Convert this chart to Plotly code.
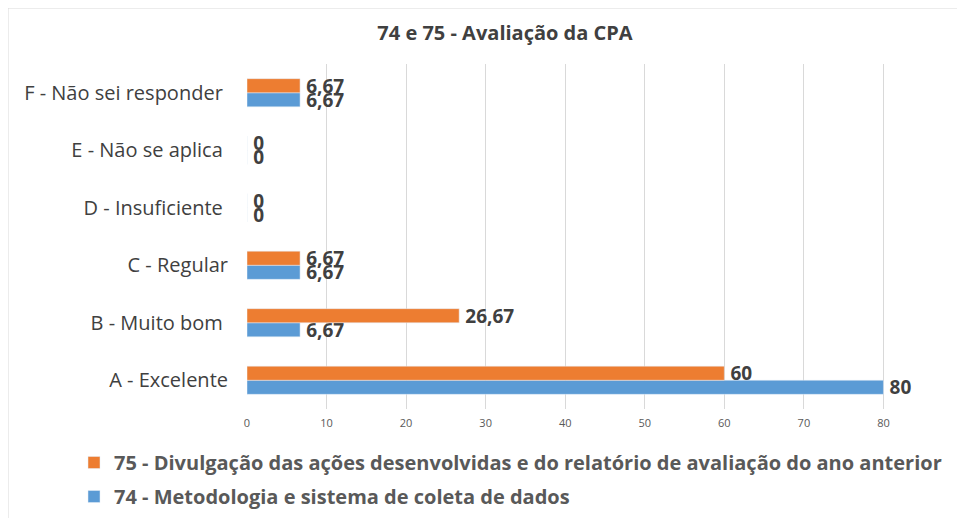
import plotly.graph_objects as go

categories = ["A - Excelente", "B - Muito bom ", "C - Regular", "D - Insuficiente ", "E - Não se aplica ", "F - Não sei responder "]
series74_name = "74 - Metodologia e sistema de coleta de dados"
series75_name = "75 - Divulgação das ações desenvolvidas e do relatório de avaliação do ano anterior"
series74 = [80, 6.67, 6.67, 0, 0, 6.67]
series75 = [60, 26.67, 6.67, 0, 0, 6.67]
x_ticks = [0, 10, 20, 30, 40, 50, 60, 70, 80, 90]

def fmt(v):
    return "\u2009" + f"{v:g}".replace(".", ",")

OFF = 8  # page body margin
W, H = 965 - OFF, 518 - OFF
# plot area in page coordinates: x 247..963, y 64..409
ml = 247 - OFF
mt = 64 - OFF
mr = W - (963 - OFF)
mb = H - (409 - OFF)
pw = W - ml - mr
ph = H - mt - mb

label_font = dict(family="Open Sans", size=19, color="#404040", weight="bold")

fig = go.Figure()
fig.add_trace(go.Bar(
    y=categories, x=series74, orientation="h", name=series74_name,
    marker=dict(color="#5B9BD5"), text=[fmt(v) for v in series74],
    textposition="outside", cliponaxis=False, constraintext="none",
    textfont=label_font, legendrank=2, legendgroup="g74",
))
fig.add_trace(go.Bar(
    y=categories, x=series75, orientation="h", name=series75_name,
    marker=dict(color="#ED7D31"), text=[fmt(v) for v in series75],
    textposition="outside", cliponaxis=False, constraintext="none",
    textfont=label_font, legendrank=1, legendgroup="g75",
))

fig.add_shape(type="rect", xref="paper", yref="paper",
              x0=(0 - ml) / pw, x1=(W + 5 - ml) / pw,
              y0=-(H + 5 - (mt + ph)) / ph, y1=(mt + ph) / ph,
              line=dict(color="#D9D9D9", width=1), fillcolor="rgba(0,0,0,0)", layer="below")

fig.update_layout(
    width=W, height=H,
    margin=dict(l=ml, r=mr, t=mt, b=mb, pad=0, autoexpand=False),
    paper_bgcolor="white", plot_bgcolor="white",
    barmode="group", bargap=0.51, bargroupgap=0,
    title=dict(text="<b>74 e 75 - Avaliação da CPA</b>", x=(505 - OFF) / W, xanchor="center",
               y=1 - (33 - OFF) / H, yanchor="middle",
               font=dict(family="Open Sans", size=20, color="#404040")),
    xaxis=dict(range=[0, 90], tickvals=x_ticks, showgrid=True, gridcolor="#D9D9D9",
               zeroline=False, showline=False, ticks="", automargin=False, ticklabelstandoff=6,
               tickfont=dict(family="Open Sans", size=11, color="#595959")),
    yaxis=dict(showgrid=False, showline=False, ticks="", ticklabelstandoff=18, automargin=False,
               tickfont=dict(family="Open Sans", size=20, color="#404040")),
    legend=dict(orientation="v", x=(74 - 247) / pw, xanchor="left",
                y=(401 - 435) / ph, yanchor="top", traceorder="grouped", tracegroupgap=5,
                font=dict(family="Open Sans", size=20, color="#595959", weight="bold"),
                itemwidth=30),
    showlegend=True,
)

fig.write_html("out.html")
